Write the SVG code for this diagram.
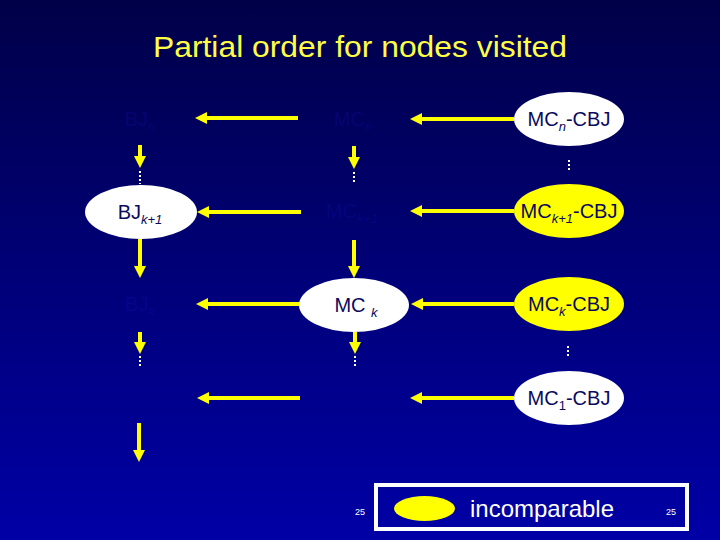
<svg xmlns="http://www.w3.org/2000/svg" width="720" height="540" viewBox="0 0 720 540">
<defs>
<linearGradient id="bg" x1="0" y1="0" x2="0" y2="1">
<stop offset="0" stop-color="#000048"/>
<stop offset="1" stop-color="#0000a6"/>
</linearGradient>
<marker id="ah" viewBox="0 0 12 12" refX="1" refY="6" markerWidth="12" markerHeight="12" markerUnits="userSpaceOnUse" orient="auto">
<path d="M0,0 L12,6 L0,12 z" fill="#ffff00"/>
</marker>
<style>
.lbl{font-family:"Liberation Sans",Arial,sans-serif;font-size:20px;fill:#0a0a5e;text-anchor:middle}
.hid{font-family:"Liberation Sans",Arial,sans-serif;font-size:20px;fill:#2a2aff;fill-opacity:0.13;text-anchor:middle}
.sub{font-size:13px;font-style:italic}
.subr{font-size:13px}
.w{fill:#ffffff}
.y{fill:#ffff00}
.arr{stroke:#ffff00;stroke-width:4;fill:none;marker-end:url(#ah)}
.dots{stroke:#ffffff;stroke-width:2;stroke-dasharray:2,2;fill:none}
</style>
</defs>
<rect x="0" y="0" width="720" height="540" fill="url(#bg)"/>
<text x="360" y="57" font-family="Liberation Sans,Arial,sans-serif" font-size="30" fill="#ffff44" text-anchor="middle" textLength="414" lengthAdjust="spacingAndGlyphs">Partial order for nodes visited</text>

<g id="connectors">
<line class="arr" x1="298" y1="118" x2="206" y2="118"/>
<line class="arr" x1="514" y1="119" x2="421" y2="119"/>
<line class="arr" x1="301" y1="212" x2="208" y2="212"/>
<line class="arr" x1="514" y1="211" x2="421" y2="211"/>
<line class="arr" x1="300" y1="304" x2="207" y2="304"/>
<line class="arr" x1="514" y1="304" x2="422" y2="304"/>
<line class="arr" x1="300" y1="398" x2="208" y2="398"/>
<line class="arr" x1="514" y1="398" x2="421" y2="398"/>
<line class="arr" x1="140" y1="145" x2="140" y2="157"/>
<line class="arr" x1="354" y1="146" x2="354" y2="158"/>
<line class="arr" x1="140" y1="239" x2="140" y2="267"/>
<line class="arr" x1="354" y1="240" x2="354" y2="267"/>
<line class="arr" x1="140" y1="332" x2="140" y2="343"/>
<line class="arr" x1="355" y1="332" x2="355" y2="343"/>
<line class="arr" x1="139" y1="423" x2="139" y2="451"/>
<line class="dots" x1="140" y1="171" x2="140" y2="184"/>
<line class="dots" x1="354" y1="172" x2="354" y2="184"/>
<line class="dots" x1="140" y1="356" x2="140" y2="368"/>
<line class="dots" x1="355" y1="356" x2="355" y2="368"/>
<line class="dots" x1="569" y1="160" x2="569" y2="171"/>
<line class="dots" x1="568" y1="346" x2="568" y2="357"/>
</g>

<g id="node-BJn"><text class="hid" x="140" y="126">BJ<tspan class="sub" dy="5">n</tspan></text></g>
<g id="node-MCn"><text class="hid" x="353" y="126">MC<tspan class="sub" dy="5">n</tspan></text></g>
<g id="node-MCk1"><text class="hid" x="352" y="218">MC<tspan class="sub" dy="5">k+1</tspan></text></g>
<g id="node-BJk"><text class="hid" x="140" y="311">BJ<tspan class="sub" dy="5">k</tspan></text></g>

<g id="node-BJk1">
<ellipse class="w" cx="141" cy="212" rx="56" ry="27"/>
<text class="lbl" x="140" y="219">BJ<tspan class="sub" dy="5">k+1</tspan></text>
</g>
<g id="node-MCk">
<ellipse class="w" cx="354" cy="305" rx="55" ry="27"/>
<text class="lbl" x="356" y="312">MC <tspan class="sub" dy="5">k</tspan></text>
</g>
<g id="node-MCn-CBJ">
<ellipse class="w" cx="569" cy="119" rx="55" ry="27"/>
<text class="lbl" x="569" y="126">MC<tspan class="sub" dy="5">n</tspan><tspan dy="-5">-CBJ</tspan></text>
</g>
<g id="node-MCk1-CBJ">
<ellipse class="y" cx="569" cy="211" rx="55" ry="27"/>
<text class="lbl" x="569" y="218">MC<tspan class="sub" dy="5">k+1</tspan><tspan dy="-5">-CBJ</tspan></text>
</g>
<g id="node-MCk-CBJ">
<ellipse class="y" cx="569" cy="304" rx="55" ry="27"/>
<text class="lbl" x="569" y="311">MC<tspan class="sub" dy="5">k</tspan><tspan dy="-5">-CBJ</tspan></text>
</g>
<g id="node-MC1-CBJ">
<ellipse class="w" cx="569" cy="398" rx="55" ry="27"/>
<text class="lbl" x="569" y="405">MC<tspan class="subr" dy="5">1</tspan><tspan dy="-5">-CBJ</tspan></text>
</g>

<g id="legend">
<rect x="376" y="485" width="311" height="44" fill="none" stroke="#ffffff" stroke-width="4"/>
<ellipse class="y" cx="424.5" cy="508.5" rx="30.5" ry="12.5"/>
<text x="542" y="517" font-family="Liberation Sans,Arial,sans-serif" font-size="24" fill="#ffffff" text-anchor="middle">incomparable</text>
</g>
<text x="360" y="515" font-family="Liberation Sans,Arial,sans-serif" font-size="9" fill="#ffffff" text-anchor="middle">25</text>
<text x="671" y="515" font-family="Liberation Sans,Arial,sans-serif" font-size="9" fill="#ffffff" text-anchor="middle">25</text>
</svg>
